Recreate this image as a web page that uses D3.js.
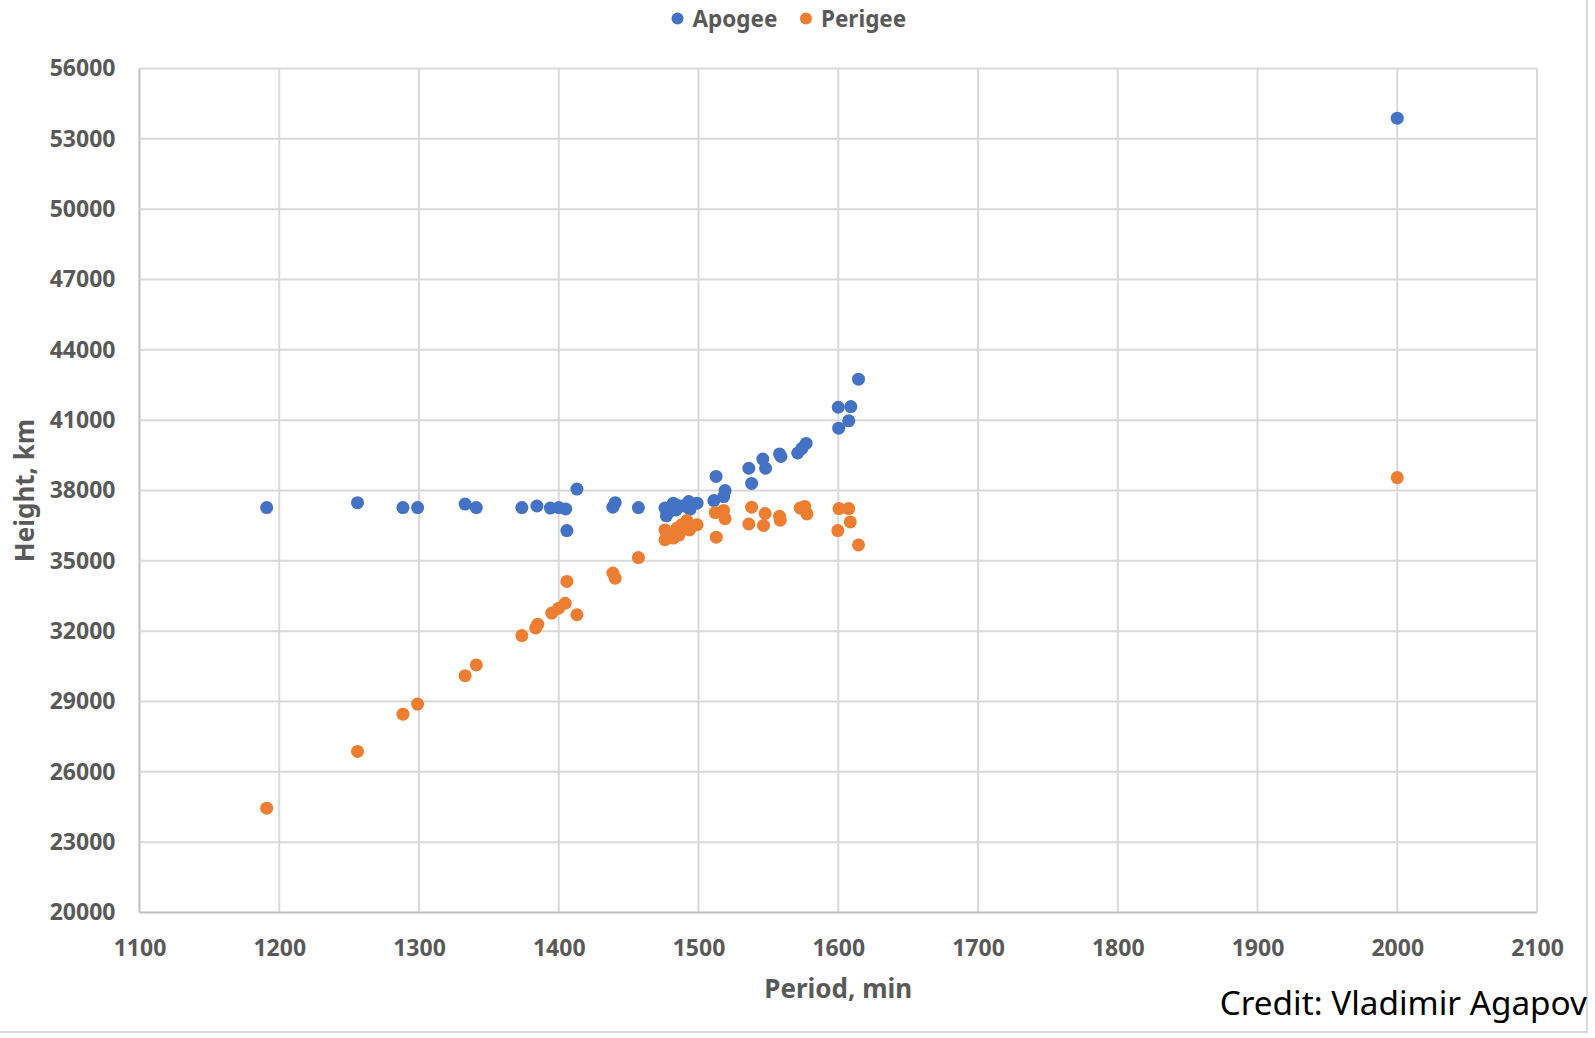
<html>
<meta charset='utf-8'>
<head>
    <script src="https://d3js.org/d3.v7.min.js"></script>
    <style>
      body { margin: 0; background: #fff; }
      text { font-family: 'Noto Sans', 'Open Sans', sans-serif; }
    </style>
</head>
<body>
<div id='viz'></div>
<script>
    // values (period in min, height in km)
    let apogeePeriod = [1191, 1256, 1288.5, 1299, 1333, 1341, 1373.6, 1384.4, 1394, 1400, 1405, 1405.8, 1413,
                        1438.7, 1440.4, 1457, 1476, 1477, 1479, 1482, 1484, 1486, 1489.5, 1493, 1494, 1499,
                        1511, 1512.6, 1518, 1519, 1536, 1538, 1546, 1548, 1558, 1559, 1571, 1574, 1577,
                        1600, 1609, 1600.3, 1607.5, 1614.5, 2000];
    let apogeeHeight = [37270, 37480, 37270, 37270, 37420, 37270, 37270, 37340, 37250, 37270, 37210, 36290, 38060,
                        37290, 37480, 37270, 37250, 36920, 37100, 37460, 37170, 37350, 37340, 37530, 37200, 37460,
                        37570, 38600, 37740, 38000, 38950, 38300, 39340, 38950, 39560, 39450, 39600, 39800, 40010,
                        41550, 41580, 40660, 40970, 42750, 53880];

    let perigeePeriod = [1191, 1256, 1288.5, 1299, 1333, 1341, 1373.6, 1383.5, 1385, 1395, 1400, 1404.6, 1405.8, 1413,
                         1438.7, 1440.4, 1457, 1476, 1476, 1480, 1482, 1484.5, 1486, 1488, 1490, 1491.7, 1493.6, 1499,
                         1512, 1512.7, 1518, 1519, 1538, 1536, 1547.7, 1546.5, 1558, 1558.5, 1572.8, 1576, 1577.6,
                         1600.5, 1607.5, 1608.6, 1599.7, 1614.5, 2000];
    let perigeeHeight = [24450, 26870, 28460, 28890, 30100, 30560, 31810, 32140, 32300, 32770, 32980, 33190, 34120, 32700,
                         34480, 34260, 35140, 36320, 35900, 36150, 35970, 36390, 36100, 36540, 36450, 36720, 36320, 36540,
                         37060, 36010, 37150, 36800, 37290, 36570, 37020, 36510, 36900, 36730, 37250, 37320, 37000,
                         37230, 37230, 36660, 36290, 35680, 38550];

    let xTicks = d3.range(1100, 2101, 100);
    let yTicks = d3.range(20000, 56001, 3000);
    let seriesNames = ['Apogee', 'Perigee'];
    let seriesColors = ['#4472C4', '#ED7D31'];

    function createViz() {
        let width = 1595, height = 1038;
        let svg = d3.select('#viz').append('svg')
                    .attr('width', width)
                    .attr('height', height);

        let x = d3.scaleLinear().domain([1100, 2100]).range([139.5, 1537]);
        let y = d3.scaleLinear().domain([20000, 56000]).range([912.5, 68.5]);

        // chart area border (only right/bottom edges visible)
        svg.append('rect')
           .attr('x', -5).attr('y', -5)
           .attr('width', 1592).attr('height', 1037)
           .attr('fill', 'none')
           .attr('stroke', '#D9D9D9')
           .attr('stroke-width', 2);

        // gridlines
        svg.append('g')
           .selectAll('line.v')
           .data(xTicks)
           .join('line')
           .attr('x1', d => x(d)).attr('x2', d => x(d))
           .attr('y1', y(56000)).attr('y2', y(20000))
           .attr('stroke', d => d == 1100 ? '#BFBFBF' : '#D9D9D9')
           .attr('stroke-width', 2);

        svg.append('g')
           .selectAll('line.h')
           .data(yTicks)
           .join('line')
           .attr('x1', x(1100)).attr('x2', x(2100))
           .attr('y1', d => y(d)).attr('y2', d => y(d))
           .attr('stroke', d => d == 20000 ? '#BFBFBF' : '#D9D9D9')
           .attr('stroke-width', 2);

        // tick labels through axes
        let xAxis = svg.append('g')
           .attr('transform', `translate(0, ${y(20000)})`)
           .call(d3.axisBottom(x).tickValues(xTicks).tickSize(0).tickPadding(27).tickFormat(d3.format('d')));
        let yAxis = svg.append('g')
           .attr('transform', `translate(${x(1100)}, 0)`)
           .call(d3.axisLeft(y).tickValues(yTicks).tickSize(0).tickPadding(24).tickFormat(d3.format('d')));

        [xAxis, yAxis].forEach(a => {
            a.select('.domain').remove();
            a.selectAll('text')
             .attr('font-family', "'Noto Sans', sans-serif")
             .attr('font-size', '23px')
             .attr('font-weight', 'bold')
             .attr('fill', '#595959');
        });

        // points
        let apogee = apogeePeriod.map((p, i) => ({p: p, h: apogeeHeight[i]}));
        let perigee = perigeePeriod.map((p, i) => ({p: p, h: perigeeHeight[i]}));

        [apogee, perigee].forEach((data, k) => {
            svg.append('g')
               .selectAll('circle')
               .data(data)
               .join('circle')
               .attr('cx', d => x(d.p))
               .attr('cy', d => y(d.h))
               .attr('r', 6.5)
               .attr('fill', seriesColors[k]);
        });

        // axis titles
        svg.append('text')
           .attr('x', (x(1100) + x(2100)) / 2)
           .attr('y', 998)
           .attr('text-anchor', 'middle')
           .attr('font-size', '26px')
           .attr('font-weight', 'bold')
           .attr('fill', '#595959')
           .text('Period, min');

        svg.append('text')
           .attr('transform', `translate(34, ${(y(20000) + y(56000)) / 2}) rotate(-90)`)
           .attr('text-anchor', 'middle')
           .attr('font-size', '26px')
           .attr('font-weight', 'bold')
           .attr('fill', '#595959')
           .text('Height, km');

        // legend
        let lx = 677.5;
        seriesNames.forEach((name, k) => {
            svg.append('circle')
               .attr('cx', lx).attr('cy', 18.5)
               .attr('r', 6)
               .attr('fill', seriesColors[k]);
            let t = svg.append('text')
               .attr('x', lx + 15)
               .attr('y', 26.5)
               .attr('font-size', '22.5px')
               .attr('font-weight', 'bold')
               .attr('fill', '#595959')
               .text(name);
            lx = lx + 15 + t.node().getComputedTextLength() + 28.5;
        });

        // credit
        svg.append('text')
           .attr('x', 1587)
           .attr('y', 1015)
           .attr('text-anchor', 'end')
           .attr('font-size', '33.3px')
           .attr('fill', '#000')
           .text('Credit: Vladimir Agapov');
    }

    createViz();
</script>
</body>
</html>
